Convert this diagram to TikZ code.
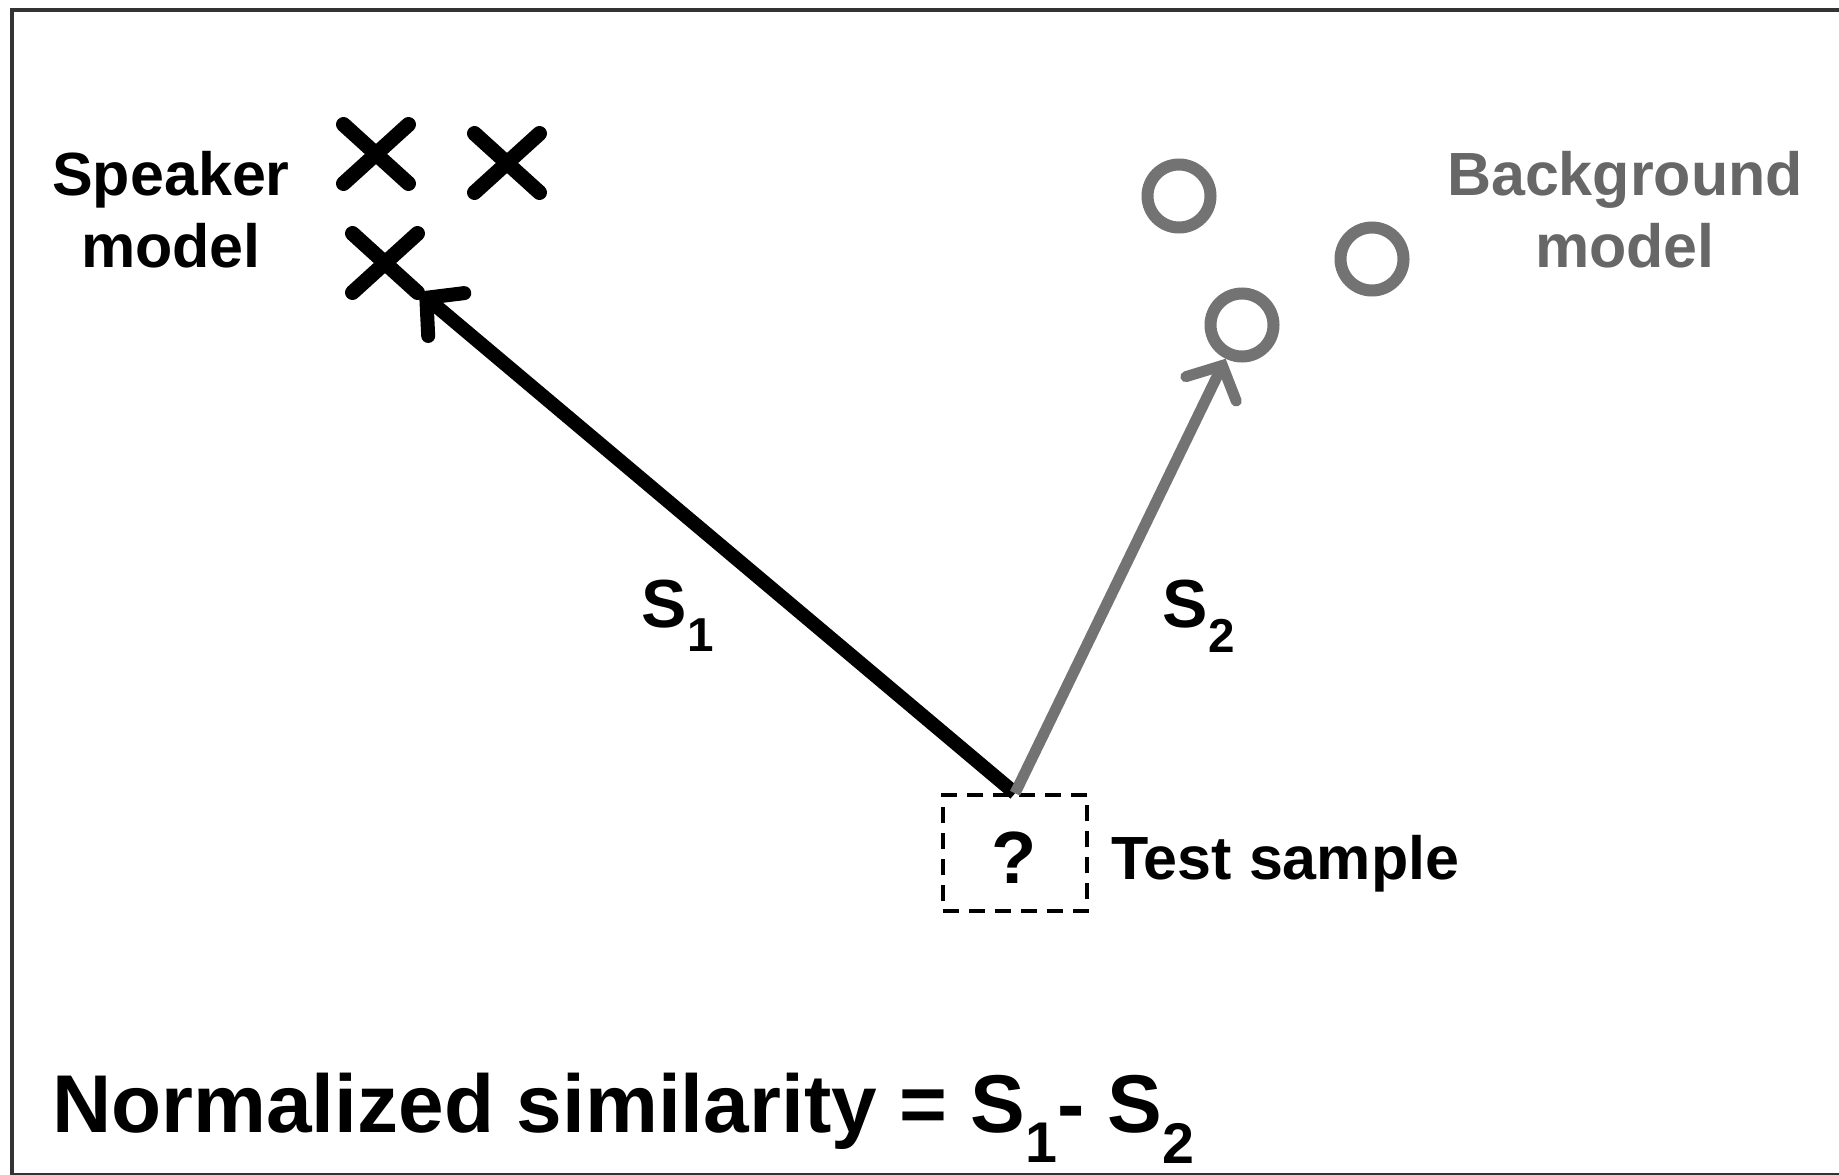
\documentclass[tikz,border=0pt]{standalone}
\usepackage{fontspec}
\setmainfont{Liberation Sans}
\usetikzlibrary{arrows.meta,shapes.misc}
\definecolor{midgray}{gray}{0.45}
\definecolor{framegray}{gray}{0.2}
\begin{document}
\begin{tikzpicture}[x=1pt,y=-1pt,
  txt/.style={font=\bfseries\fontsize{61}{72}\selectfont, inner sep=0pt, align=center},
  xmark/.style={cross out, draw=black, line width=15pt, minimum width=50pt, minimum height=44pt, inner sep=0pt, line cap=round},
  omark/.style={circle, draw=midgray, line width=12pt, minimum size=63pt, inner sep=0pt},
  barb/.style={-{Straight Barb[length=26pt,width=56pt,line cap=round]}, line width=14pt, shorten >=2pt},
]
\useasboundingbox (0,0) rectangle (1839,1175);
\fill[white] (0,0) rectangle (1839,1175);
\node[draw=framegray, line width=4pt, minimum width=1836pt, minimum height=1165pt, inner sep=0pt, anchor=north west] (frame) at (10,8) {};

% speaker model
\node[txt] (spk) at (171,210) {Speaker\\model};
\node[xmark] (x1) at (376,154) {};
\node[xmark] (x2) at (507,163) {};
\node[xmark] (x3) at (385,263) {};

% background model
\node[txt, text=midgray!90!black] (bkg) at (1625,210) {Background\\model};
\node[omark] (o1) at (1179,196) {};
\node[omark] (o2) at (1372,259) {};
\node[omark] (o3) at (1242,325) {};

% test sample
\node[draw=black, dash pattern=on 16pt off 10pt, line width=3.5pt, minimum width=144pt, minimum height=116pt, inner sep=0pt] (test) at (1015,853) {};
\node[font=\bfseries\fontsize{74}{80}\selectfont, inner sep=0pt] (q) at (1014,858) {?};
\node[txt, anchor=west] (tlab) at (1111,864) {Test sample};

% arrows
\draw[barb, draw=black] (test.north) -- (x3);
\draw[barb, draw=midgray, line width=11pt, shorten >=0pt] (test.north) -- (o3);

\node[font=\bfseries\fontsize{68}{80}\selectfont, inner sep=0pt] (s1) at (678,616) {S\textsubscript{1}};
\node[font=\bfseries\fontsize{68}{80}\selectfont, inner sep=0pt] (s2) at (1199,616) {S\textsubscript{2}};

\node[font=\bfseries\fontsize{82}{90}\selectfont, inner sep=0pt, anchor=base west] (norm) at (52,1132) {Normalized similarity = S\textsubscript{1}- S\textsubscript{2}};
\end{tikzpicture}
\end{document}
